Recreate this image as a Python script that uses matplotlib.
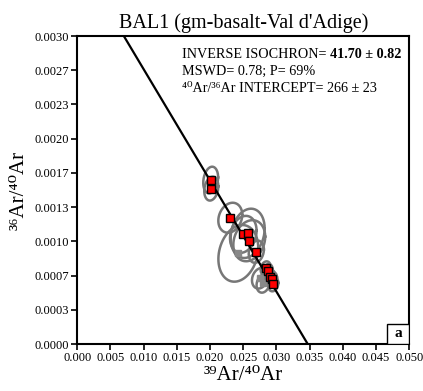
import numpy as np
import matplotlib
matplotlib.use('Agg')
import matplotlib.pyplot as plt
from matplotlib.patches import Rectangle

plt.rcParams['font.family'] = ['Liberation Serif', 'DejaVu Serif']

# ---- data ----
# accepted steps (red)
x_in = [0.02009, 0.02018, 0.02304, 0.02500, 0.02566, 0.02590, 0.02696,
        0.02837, 0.02867, 0.02902, 0.02932, 0.02952]
y_in = [0.001597, 0.001513, 0.001230, 0.001068, 0.001078, 0.001006, 0.000899,
        0.000737, 0.000711, 0.000656, 0.000633, 0.000581]
# 1-sigma errors
sx_in = [0.00056, 0.00053, 0.00090, 0.00100, 0.00128, 0.00120, 0.00057,
         0.00038, 0.00038, 0.00038, 0.00038, 0.00038]
sy_in = [0.000065, 0.000058, 0.000073, 0.000090, 0.000120, 0.000100, 0.000054,
         0.000034, 0.000034, 0.000034, 0.000034, 0.000034]
# rejected steps (grey)
x_out = [0.02425, 0.02751, 0.02800]
y_out = [0.000883, 0.000640, 0.000590]
sx_out = [0.00150, 0.00060, 0.00050]
sy_out = [0.000138, 0.000050, 0.000045]
rho = 0.2

intercept_y = 1 / 266.0   # 36Ar/40Ar at x=0
intercept_x = 0.0347      # 39Ar/40Ar at y=0

fig = plt.figure(figsize=(4.23, 3.91), dpi=100)
ax = fig.add_axes([0.1827, 0.1202, 0.7849, 0.7877])

t = np.linspace(0, 2 * np.pi, 200)
def ellipse(x0, y0, sx, sy, r):
    # 2-sigma error ellipse
    ex = x0 + 2 * sx * np.cos(t)
    ey = y0 + 2 * sy * (r * np.cos(t) + np.sqrt(1 - r ** 2) * np.sin(t))
    ax.plot(ex, ey, color='#777777', lw=1.8, zorder=2)

for i in range(len(x_out)):
    ellipse(x_out[i], y_out[i], sx_out[i], sy_out[i], rho)
for i in range(len(x_in)):
    ellipse(x_in[i], y_in[i], sx_in[i], sy_in[i], rho)

xl = np.array([0.0, 0.05])
ax.plot(xl, intercept_y * (1 - xl / intercept_x), color='black', lw=1.6, zorder=3)

ax.plot(x_out, y_out, 's', color='#888888', markersize=5, zorder=4)
ax.plot(x_in, y_in, 's', markerfacecolor='red', markeredgecolor='black',
        markeredgewidth=1.0, markersize=6, zorder=5)

ax.set_xlim(0, 0.05)
ax.set_ylim(0, 0.003)
xt = np.arange(0, 0.0501, 0.005)
yt = np.linspace(0, 0.003, 10)
ax.set_xticks(xt)
ax.set_xticklabels(['%.3f' % v for v in xt])
ax.set_yticks(yt)
ax.set_yticklabels(['%.4f' % v for v in yt])
ax.tick_params(direction='out', length=4, width=1.2, labelsize=9, pad=2)
for s in ax.spines.values():
    s.set_linewidth(1.5)

ax.set_xlabel('³⁹Ar/⁴⁰Ar', fontsize=15, labelpad=1)
ax.set_ylabel('³⁶Ar/⁴⁰Ar', fontsize=15, labelpad=4)
ax.set_title("BAL1 (gm-basalt-Val d'Adige)", fontsize=14.5, pad=6)

fs = 10.2
t1 = ax.text(0.315, 0.94, 'INVERSE ISOCHRON= ', transform=ax.transAxes, fontsize=fs, va='center')
ax.annotate('41.70 ± 0.82', xy=(1, 0.5), xycoords=t1, fontsize=fs,
            fontweight='bold', va='center')
ax.text(0.315, 0.885, 'MSWD= 0.78; P= 69%', transform=ax.transAxes, fontsize=fs, va='center')
ax.text(0.315, 0.83, '⁴⁰Ar/³⁶Ar INTERCEPT= 266 ± 23', transform=ax.transAxes,
        fontsize=fs, va='center')

ax.add_patch(Rectangle((0.934, 0), 0.066, 0.065, transform=ax.transAxes,
                       facecolor='white', edgecolor='black', lw=1, zorder=6))
ax.text(0.967, 0.0325, 'a', transform=ax.transAxes, fontsize=11, fontweight='bold',
        ha='center', va='center', zorder=7)

plt.savefig('out.png', dpi=100)
